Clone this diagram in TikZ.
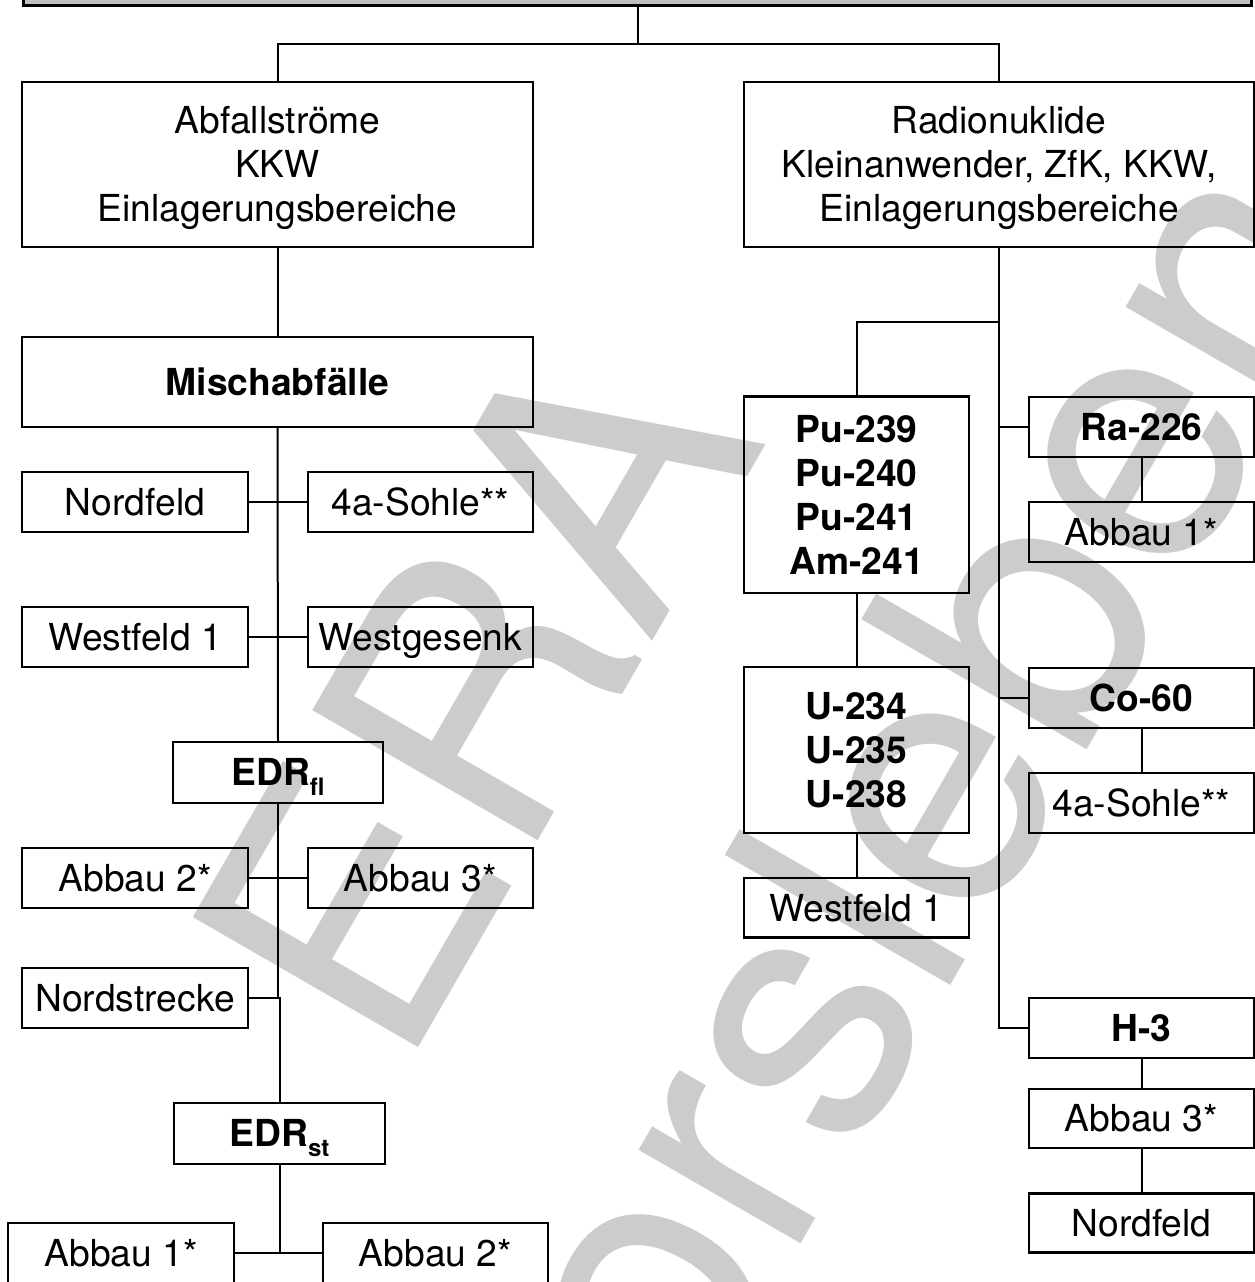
\documentclass[tikz,border=0pt]{standalone}
\usepackage{fontspec}
\setmainfont{TeX Gyre Heros}
\definecolor{topgray}{RGB}{192,192,192}
\definecolor{wmgray}{RGB}{204,204,204}
\begin{document}
\begin{tikzpicture}[x=1pt,y=-1pt,
  box/.style={draw, line width=2.2pt, inner sep=0pt, text height=26.5pt, text depth=0pt,
    font=\fontsize{37.2}{44}\selectfont},
  bbox/.style={box, font=\fontsize{37.2}{44}\selectfont\bfseries},
  three/.style={align=center, text height=114.5pt, text depth=0pt},
  four/.style={align=center, text height=158.5pt, text depth=0pt},
  conn/.style={line width=2pt},
  trunk/.style={line width=2.6pt},
  wm/.style={rotate=60, text=wmgray, inner sep=0pt, anchor=base,
    font=\fontsize{357}{430}\selectfont},
  ]
\useasboundingbox (0,0) rectangle (1255,1282);

% watermark
\node[wm] (wm1) at (585.5,758) {ERA};
\node[wm] (wm2) at (958,973) {Morsleben};

% top box (cut off)
\node[draw, line width=3pt, fill=topgray, minimum width=1228pt, minimum height=140pt,
  inner sep=0pt, anchor=south west] (top) at (22,7) {};

% left branch
\node[box, three, minimum width=511pt, minimum height=165pt] (abf) at (277.5,164.5)
  {Abfallströme\\KKW\\Einlagerungsbereiche};
\node[bbox, minimum width=511pt, minimum height=90pt] (misch) at (277.5,382) {Mischabfälle};
\node[box, minimum width=226pt, minimum height=60pt] (nordfeld) at (135,502) {Nordfeld};
\node[box, minimum width=225pt, minimum height=60pt] (sohle) at (420.5,502) {4a-Sohle**};
\node[box, minimum width=226pt, minimum height=60pt] (westf) at (135,637) {Westfeld 1};
\node[box, minimum width=225pt, minimum height=60pt] (westg) at (420.5,637) {Westgesenk};
\node[bbox, minimum width=210pt, minimum height=61pt] (edrfl) at (278,772.5)
  {EDR\raisebox{-9.5pt}{\fontsize{24}{24}\selectfont fl}};
\node[box, minimum width=226pt, minimum height=60pt] (abb2) at (135,878) {Abbau 2*};
\node[box, minimum width=225pt, minimum height=60pt] (abb3) at (420.5,878) {Abbau 3*};
\node[box, minimum width=226pt, minimum height=60pt] (nordstr) at (135,998) {Nordstrecke};
\node[bbox, minimum width=211pt, minimum height=61pt] (edrst) at (279.5,1133.5)
  {EDR\raisebox{-9.5pt}{\fontsize{24}{24}\selectfont st}};
\node[box, minimum width=226pt, minimum height=60pt] (abb1b) at (121,1253) {Abbau 1*};
\node[box, minimum width=225pt, minimum height=60pt] (abb2b) at (435.5,1253) {Abbau 2*};

% right branch
\node[box, three, minimum width=510pt, minimum height=165pt] (rad) at (999,164.5)
  {Radionuklide\\Kleinanwender, ZfK, KKW,\\Einlagerungsbereiche};
\node[bbox, four, minimum width=225pt, minimum height=196.5pt] (pu) at (856.5,494.75)
  {Pu-239\\Pu-240\\Pu-241\\Am-241};
\node[bbox, three, minimum width=225pt, minimum height=166pt] (uran) at (856.5,750)
  {U-234\\U-235\\U-238};
\node[box, minimum width=225pt, minimum height=59.5pt] (wf1r) at (856.5,907.75) {Westfeld 1};
\node[bbox, minimum width=225pt, minimum height=60pt] (ra) at (1141.5,427) {Ra-226};
\node[box, minimum width=225pt, minimum height=60pt] (ab1r) at (1141.5,532) {Abbau 1*};
\node[bbox, minimum width=225pt, minimum height=60pt] (co) at (1141.5,698) {Co-60};
\node[box, minimum width=225pt, minimum height=60pt] (sohr) at (1141.5,803) {4a-Sohle**};
\node[bbox, minimum width=225pt, minimum height=59.5pt] (h3) at (1141.5,1028) {H-3};
\node[box, minimum width=225pt, minimum height=59pt] (ab3r) at (1141.5,1118.5) {Abbau 3*};
\node[box, minimum width=225pt, minimum height=59pt] (nfr) at (1141.5,1223) {Nordfeld};

% connectors
\coordinate (j0) at (638,44);
\coordinate (rb) at (999,321.5);
\draw[conn] (top.south -| j0) -- (j0);
\draw[conn] (abf.north) |- (j0) -| (rad.north);
\draw[conn] (abf.south) -- (misch.north);
\draw[conn] (misch.south) -- (edrfl.north);
\draw[conn] (nordfeld.east) -- (sohle.west);
\draw[conn] (westf.east) -- (westg.west);
\draw[conn] (edrfl.south) |- (nordstr.east);
\draw[conn] (abb2.east) -- (abb3.west);
\draw[conn] (edrst.north) |- (nordstr.east);
\draw[conn] (edrst.south) -- (edrst.south |- abb1b.east);
\draw[conn] (abb1b.east) -- (abb2b.west);

\draw[trunk] (rad.south) |- (h3.west);
\draw[conn] (rb) -| (pu.north);
\draw[conn] (pu.south) -- (uran.north);
\draw[conn] (uran.south) -- (wf1r.north);
\draw[conn] (ra.west -| rad.south) -- (ra.west);
\draw[conn] (co.west -| rad.south) -- (co.west);
\draw[conn] (ra.south) -- (ab1r.north);
\draw[conn] (co.south) -- (sohr.north);
\draw[conn] (h3.south) -- (ab3r.north);
\draw[conn] (ab3r.south) -- (nfr.north);
\end{tikzpicture}
\end{document}
